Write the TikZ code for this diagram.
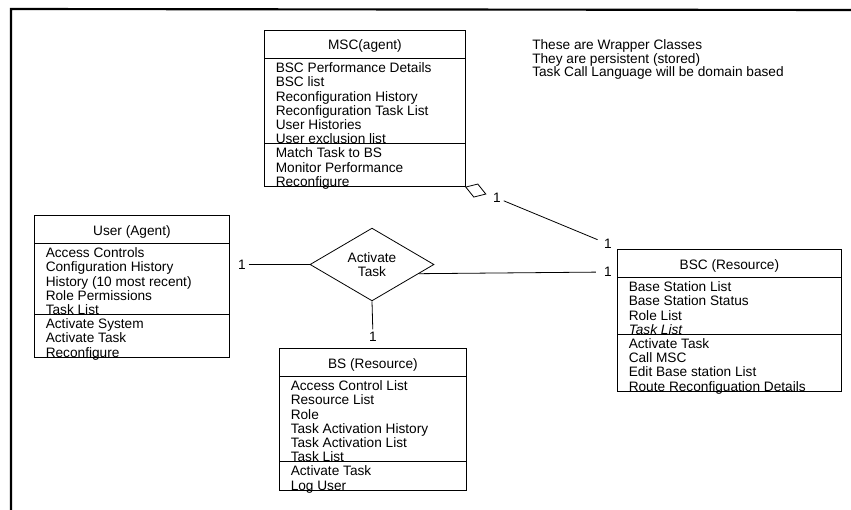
\documentclass[tikz,border=0pt]{standalone}
\usepackage{fontspec}
\setmainfont{Liberation Sans}
\usetikzlibrary{shapes.geometric,calc}

\tikzset{
  every node/.style={font=\fontsize{10.25}{10.6}\selectfont},
  classbox/.style={draw, line width=.6pt, rectangle, inner sep=0pt, anchor=north west},
  title/.style={inner sep=0pt, anchor=base},
  member/.style={inner sep=0pt, anchor=base west},
  relation/.style={draw, line width=.6pt, diamond, inner sep=0pt, align=center,
    minimum width=93pt, minimum height=47.25pt},
  mult/.style={inner sep=2pt},
  link/.style={line width=.6pt}
}

\begin{document}
\begin{tikzpicture}[x=.75pt, y=-.75pt]
  \useasboundingbox (0,0) rectangle (851,510);
  \draw[line width=1.6pt] (11,510) -- (11,9) -- (851,10);

  % note
  \foreach \t [count=\i] in {These are Wrapper Classes, They are persistent (stored),
      Task Call Language will be domain based}
    \node[member] (note-\i) at (532,{36.7+13.3*\i}) {\t};

  % MSC
  \node[classbox, minimum width=150.75pt, minimum height=117.2pt] (msc) at (264,30) {};
  \node[title] (msc-t) at ($(msc.north)+(0,20)$) {MSC(agent)};
  \draw[link] ($(msc.north west)+(0,28.5)$) -- ($(msc.north east)+(0,28.5)$);
  \draw[link] ($(msc.north west)+(0,113.7)$) -- ($(msc.north east)+(0,113.7)$);
  \foreach \t [count=\i] in {BSC Performance Details, BSC list, Reconfiguration History,
      Reconfiguration Task List, User Histories, User exclusion list,
      Match Task to BS, Monitor Performance, Reconfigure}
    \node[member] (msc-\i) at ($(msc.north west)+(11.5,{28.5+14.2*\i})$) {\t};

  % User
  \node[classbox, minimum width=146.25pt, minimum height=106.6pt] (user) at (34,215) {};
  \node[title] (user-t) at ($(user.north)+(0,20)$) {User (Agent)};
  \draw[link] ($(user.north west)+(0,28.5)$) -- ($(user.north east)+(0,28.5)$);
  \draw[link] ($(user.north west)+(0,99.5)$) -- ($(user.north east)+(0,99.5)$);
  \foreach \t [count=\i] in {Access Controls, Configuration History,
      History (10 most recent), Role Permissions, Task List,
      Activate System, Activate Task, Reconfigure}
    \node[member] (user-\i) at ($(user.north west)+(11.5,{28.5+14.2*\i})$) {\t};

  % BS
  \node[classbox, minimum width=140.25pt, minimum height=106.6pt] (bs) at (279,348) {};
  \node[title] (bs-t) at ($(bs.north)+(0,20)$) {BS (Resource)};
  \draw[link] ($(bs.north west)+(0,28.5)$) -- ($(bs.north east)+(0,28.5)$);
  \draw[link] ($(bs.north west)+(0,113.7)$) -- ($(bs.north east)+(0,113.7)$);
  \foreach \t [count=\i] in {Access Control List, Resource List, Role,
      Task Activation History, Task Activation List, Task List,
      Activate Task, Log User}
    \node[member] (bs-\i) at ($(bs.north west)+(11.5,{28.5+14.2*\i})$) {\t};

  % BSC
  \node[classbox, minimum width=168pt, minimum height=106.6pt] (bsc) at (617,249) {};
  \node[title] (bsc-t) at ($(bsc.north)+(0,20)$) {BSC (Resource)};
  \draw[link] ($(bsc.north west)+(0,28.5)$) -- ($(bsc.north east)+(0,28.5)$);
  \draw[link] ($(bsc.north west)+(0,85.3)$) -- ($(bsc.north east)+(0,85.3)$);
  \foreach \t [count=\i] in {Base Station List, Base Station Status, Role List,
      {\itshape Task List}, Activate Task, Call MSC, Edit Base station List,
      Route Reconfiguation Details}
    \node[member] (bsc-\i) at ($(bsc.north west)+(11.5,{28.5+14.2*\i})$) {\t};

  % relation and multiplicities
  \node[relation] (act) at (372,264.5) {Activate\\Task};
  \node[mult] (m-user) at (242,264.5) {1};
  \node[mult] (m-bs) at (373,337) {1};
  \node[mult] (m-bsc) at (608,272) {1};
  \node[mult] (m-msc) at (497,198) {1};
  \node[mult] (m-agg) at (608,244) {1};

  \draw[link] (m-user) -- (act.west);
  \draw[link] (act.south) -- (m-bs);
  \draw[link, shorten >=4pt] ($(act.east)!.25!(act.south)$) -- (m-bsc);
  \draw[link] (msc.south east) -- ++(12,-3) -- ++(8,10) -- ++(-12,3) -- cycle;
  \draw[link, shorten >=3pt] (m-msc) -- (m-agg);
\end{tikzpicture}
\end{document}
